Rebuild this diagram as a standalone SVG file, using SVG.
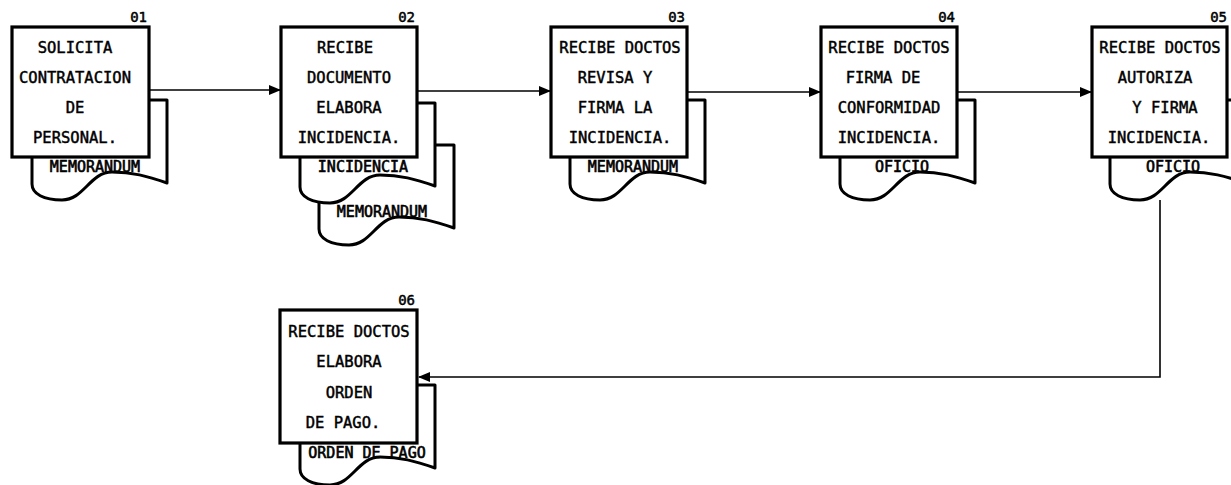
<svg xmlns="http://www.w3.org/2000/svg" width="1231" height="485" viewBox="0 0 1231 485">
<style>
.box{fill:#fff;stroke:#000;stroke-width:3.2}
.doc{fill:#fff;stroke:#000;stroke-width:3;stroke-linejoin:round}
.t{font-family:"DejaVu Sans Mono","Liberation Mono",monospace;font-size:15.5px;fill:#000;stroke:#000;stroke-width:0.45;text-anchor:middle}
.d{font-family:"DejaVu Sans Mono","Liberation Mono",monospace;font-size:15px;fill:#000;stroke:#000;stroke-width:0.6;text-anchor:middle}
.n{font-family:"DejaVu Sans Mono","Liberation Mono",monospace;font-size:14px;fill:#000;stroke:#000;stroke-width:0.5;text-anchor:end}
.c{fill:none;stroke:#000;stroke-width:1.6}
</style>
<defs>
<path id="doc" d="M0,0 H135 V83 C115,76 100,72 80,72 C58,72 52,100 30,100 C12,100 0,94 0,84 Z"/>
<marker id="ah" markerWidth="12" markerHeight="10" refX="11" refY="5" orient="auto" markerUnits="userSpaceOnUse">
<path d="M0,0 L12,5 L0,10 Z" fill="#000"/>
</marker>
</defs>
<g id="connectors">
<line class="c" x1="150" y1="90" x2="280" y2="90" marker-end="url(#ah)"/>
<line class="c" x1="418" y1="91" x2="550" y2="91" marker-end="url(#ah)"/>
<line class="c" x1="688" y1="92" x2="820" y2="92" marker-end="url(#ah)"/>
<line class="c" x1="958" y1="92" x2="1091" y2="92" marker-end="url(#ah)"/>
<polyline class="c" points="1160,200 1160,377 419,377" marker-end="url(#ah)"/>
</g>
<g id="node01">
<use href="#doc" x="32" y="100" class="doc"/>
<text class="d" x="95" y="172">MEMORANDUM</text>
<rect class="box" x="12" y="27" width="137" height="130"/>
<text class="n" x="147" y="22">01</text>
<text class="t" x="75" y="53">SOLICITA</text>
<text class="t" x="75" y="83">CONTRATACION</text>
<text class="t" x="75" y="113">DE</text>
<text class="t" x="75" y="143">PERSONAL.</text>
</g>
<g id="node02">
<use href="#doc" x="319" y="145" class="doc"/>
<text class="d" x="382" y="217">MEMORANDUM</text>
<use href="#doc" x="300" y="103" class="doc"/>
<text class="d" x="363" y="172">INCIDENCIA</text>
<rect class="box" x="281" y="27" width="136" height="130"/>
<text class="n" x="415" y="22">02</text>
<text class="t" x="345" y="53">RECIBE</text>
<text class="t" x="349" y="83">DOCUMENTO</text>
<text class="t" x="349" y="113">ELABORA</text>
<text class="t" x="349" y="143">INCIDENCIA.</text>
</g>
<g id="node03">
<use href="#doc" x="570" y="100" class="doc"/>
<text class="d" x="633" y="172">MEMORANDUM</text>
<rect class="box" x="551" y="27" width="136" height="130"/>
<text class="n" x="685" y="22">03</text>
<text class="t" x="620" y="53">RECIBE DOCTOS</text>
<text class="t" x="615" y="83">REVISA Y</text>
<text class="t" x="615" y="113">FIRMA LA</text>
<text class="t" x="620" y="143">INCIDENCIA.</text>
</g>
<g id="node04">
<use href="#doc" x="840" y="100" class="doc"/>
<text class="d" x="902" y="172">OFICIO</text>
<rect class="box" x="821" y="27" width="136" height="130"/>
<text class="n" x="955" y="22">04</text>
<text class="t" x="889" y="53">RECIBE DOCTOS</text>
<text class="t" x="883" y="83">FIRMA DE</text>
<text class="t" x="889" y="113">CONFORMIDAD</text>
<text class="t" x="889" y="143">INCIDENCIA.</text>
</g>
<g id="node05">
<use href="#doc" x="1110" y="100" class="doc"/>
<text class="d" x="1173" y="172">OFICIO</text>
<rect class="box" x="1092" y="27" width="135" height="130"/>
<text class="n" x="1227" y="22">05</text>
<text class="t" x="1160" y="53">RECIBE DOCTOS</text>
<text class="t" x="1155" y="83">AUTORIZA</text>
<text class="t" x="1165" y="113">Y FIRMA</text>
<text class="t" x="1159" y="143">INCIDENCIA.</text>
</g>
<g id="node06">
<use href="#doc" x="300" y="385" class="doc"/>
<text class="d" x="367" y="458">ORDEN DE PAGO</text>
<rect class="box" x="280" y="310" width="137" height="133"/>
<text class="n" x="415" y="305">06</text>
<text class="t" x="349" y="337">RECIBE DOCTOS</text>
<text class="t" x="349" y="367">ELABORA</text>
<text class="t" x="349" y="398">ORDEN</text>
<text class="t" x="343" y="428">DE PAGO.</text>
</g>
</svg>
